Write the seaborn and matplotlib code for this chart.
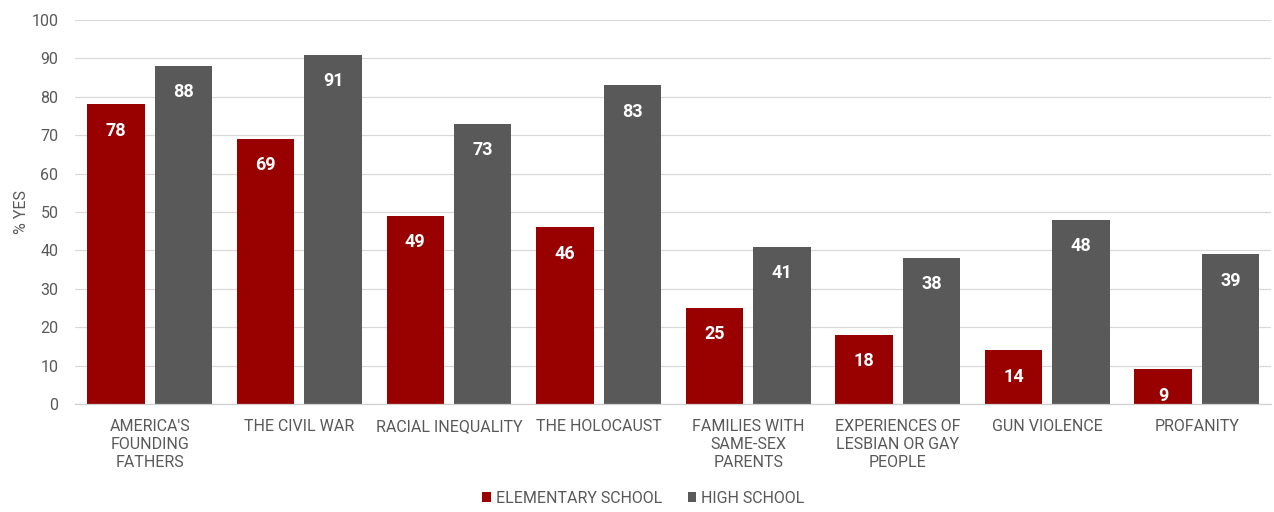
import matplotlib
matplotlib.use("Agg")
import matplotlib.pyplot as plt
import seaborn as sns
import pandas as pd

# Topics and share of "yes" answers per school level
topics = [
    "AMERICA'S\nFOUNDING\nFATHERS",
    "THE CIVIL WAR",
    "RACIAL INEQUALITY",
    "THE HOLOCAUST",
    "FAMILIES WITH\nSAME-SEX\nPARENTS",
    "EXPERIENCES OF\nLESBIAN OR GAY\nPEOPLE",
    "GUN VIOLENCE",
    "PROFANITY",
]
elementary = [78, 69, 49, 46, 25, 18, 14, 9]
high_school = [88, 91, 73, 83, 41, 38, 48, 39]
levels = ["ELEMENTARY SCHOOL", "HIGH SCHOOL"]
y_ticks = list(range(0, 101, 10))

df = pd.DataFrame({
    "topic": topics * 2,
    "value": elementary + high_school,
    "level": [levels[0]] * len(topics) + [levels[1]] * len(topics),
})

sns.set_theme(style="white")
plt.rcParams["font.family"] = ["Roboto", "DejaVu Sans"]

TEXT = "#595959"
FS = 11.5
palette = {levels[0]: "#990000", levels[1]: "#595959"}

fig = plt.figure(figsize=(12.74, 5.12), dpi=100)
ax = fig.add_axes([0.059, 0.211, 0.939, 0.750])

sns.barplot(data=df, x="topic", y="value", hue="level", palette=palette,
            width=0.902, gap=0.148, saturation=1, ax=ax, legend=True,
            edgecolor="none")

ax.set_ylim(0, 100)
ax.set_xlim(-0.5, len(topics) - 0.5)
ax.set_yticks(y_ticks)
ax.set_yticklabels([str(t) for t in y_ticks], fontsize=FS, color=TEXT)
ax.tick_params(axis="x", length=0, pad=11, labelsize=FS, labelcolor=TEXT)
ax.tick_params(axis="y", length=0, pad=12)
for lbl in ax.get_xticklabels():
    lbl.set_linespacing(1.25)
    lbl.set_va("top")

ax.yaxis.grid(True, color="#d9d9d9", linewidth=0.9)
ax.set_axisbelow(True)
for side in ["left", "right", "top"]:
    ax.spines[side].set_visible(False)
ax.spines["bottom"].set_color("#d0d0d0")
ax.spines["bottom"].set_linewidth(0.9)

ax.set_xlabel("")
ax.set_ylabel("% YES", fontsize=FS, color=TEXT, labelpad=2)

# Value labels inside the bars, near their tops
for container in ax.containers:
    for bar in container:
        h = bar.get_height()
        ax.annotate(f"{h:.0f}", (bar.get_x() + bar.get_width() / 2, h),
                    xytext=(0, -19), textcoords="offset points",
                    ha="center", va="center", color="white",
                    fontsize=13, fontweight="bold")

handles, labels = ax.get_legend_handles_labels()
ax.legend_.remove()
fig.legend(handles, labels, loc="center", bbox_to_anchor=(0.505, 0.027),
           ncol=2, frameon=False, fontsize=FS, labelcolor=TEXT,
           handlelength=0.55, handleheight=0.55, handletextpad=0.3,
           columnspacing=1.6)

fig.savefig("out.png", dpi=100)
